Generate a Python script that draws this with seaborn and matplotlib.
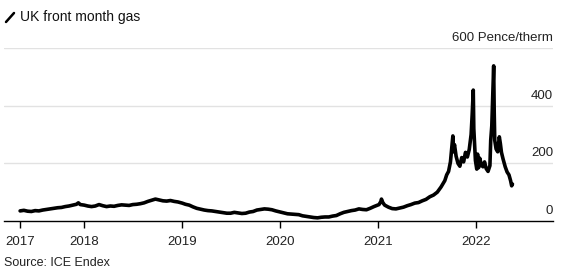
import matplotlib
matplotlib.use("Agg")
import matplotlib.pyplot as plt
import matplotlib.dates as mdates
from matplotlib.lines import Line2D
from matplotlib.transforms import blended_transform_factory
import seaborn as sns
import pandas as pd

sns.set_style("white")
plt.rcParams['font.family'] = ['Liberation Sans', 'DejaVu Sans']

dates = [
    "2017-05-08", "2017-05-22", "2017-06-05", "2017-06-19", "2017-07-03", "2017-07-17", "2017-07-31",
    "2017-08-14", "2017-08-28", "2017-09-11", "2017-09-25", "2017-10-09", "2017-10-23", "2017-11-06",
    "2017-11-20", "2017-12-04", "2017-12-11", "2017-12-18",
    "2018-01-02", "2018-01-15", "2018-01-29", "2018-02-12", "2018-02-26", "2018-03-12", "2018-03-26",
    "2018-04-09", "2018-04-23", "2018-05-07", "2018-05-21", "2018-06-04", "2018-06-18", "2018-07-02",
    "2018-07-16", "2018-07-30", "2018-08-13", "2018-08-27", "2018-09-10", "2018-09-24", "2018-10-08",
    "2018-10-22", "2018-11-05", "2018-11-19", "2018-12-03", "2018-12-17",
    "2019-01-02", "2019-01-14", "2019-01-28", "2019-02-11", "2019-02-25", "2019-03-11", "2019-03-25",
    "2019-04-08", "2019-04-22", "2019-05-06", "2019-05-20", "2019-06-03", "2019-06-17", "2019-07-01",
    "2019-07-15", "2019-07-29", "2019-08-12", "2019-08-26", "2019-09-09", "2019-09-23", "2019-10-07",
    "2019-10-21", "2019-11-04", "2019-11-18", "2019-12-02", "2019-12-16",
    "2020-01-02", "2020-01-15", "2020-01-29", "2020-02-12", "2020-02-26", "2020-03-11", "2020-03-25",
    "2020-04-08", "2020-04-22", "2020-05-06", "2020-05-20", "2020-06-03", "2020-06-17", "2020-07-01",
    "2020-07-15", "2020-07-29", "2020-08-12", "2020-08-26", "2020-09-09", "2020-09-23", "2020-10-07",
    "2020-10-21", "2020-11-04", "2020-11-18", "2020-12-02", "2020-12-16",
    "2021-01-04", "2021-01-11", "2021-01-13", "2021-01-18", "2021-01-25", "2021-02-08", "2021-02-22",
    "2021-03-08", "2021-03-22", "2021-04-05", "2021-04-19", "2021-05-03", "2021-05-17", "2021-05-31",
    "2021-06-14", "2021-06-28", "2021-07-12", "2021-07-26", "2021-08-09", "2021-08-23", "2021-09-06",
    "2021-09-13", "2021-09-20", "2021-09-27", "2021-10-01", "2021-10-06", "2021-10-08", "2021-10-12",
    "2021-10-18", "2021-10-25", "2021-11-01", "2021-11-08", "2021-11-15", "2021-11-22", "2021-11-29",
    "2021-12-06", "2021-12-13", "2021-12-17", "2021-12-21", "2021-12-23", "2021-12-29",
    "2022-01-03", "2022-01-06", "2022-01-10", "2022-01-14", "2022-01-20", "2022-01-26", "2022-02-01",
    "2022-02-07", "2022-02-14", "2022-02-21", "2022-02-24", "2022-02-28", "2022-03-03", "2022-03-07",
    "2022-03-09", "2022-03-11", "2022-03-16", "2022-03-22", "2022-03-28", "2022-04-01", "2022-04-05",
    "2022-04-11", "2022-04-19", "2022-04-26", "2022-05-03", "2022-05-09", "2022-05-13", "2022-05-16",
]
prices = [
    35, 37, 34, 33, 36, 35, 38,
    40, 42, 44, 46, 47, 50, 52,
    55, 58, 63, 57,
    55, 52, 50, 52, 57, 53, 50,
    52, 51, 54, 56, 55, 54, 57,
    58, 60, 63, 68, 72, 76, 73,
    70, 69, 71, 68, 66,
    62, 58, 55, 49, 44, 41, 38,
    36, 35, 33, 31, 29, 27, 27,
    30, 28, 26, 27, 31, 33, 38,
    40, 42, 41, 39, 35,
    31, 28, 25, 24, 23, 22, 18,
    16, 14, 12, 11, 13, 14, 14,
    17, 19, 25, 30, 33, 36, 38,
    42, 40, 39, 44, 50,
    57, 68, 76, 64, 55, 48, 43,
    42, 45, 48, 53, 57, 62, 64,
    70, 75, 84, 90, 100, 118, 140,
    160, 172, 205, 245, 295, 240, 265,
    225, 200, 190, 220, 205, 238, 222,
    248, 300, 370, 454, 320, 210,
    180, 232, 185, 218, 195, 188, 205,
    182, 172, 192, 280, 330, 420, 538,
    380, 280, 250, 240, 292, 268, 238,
    215, 188, 170, 160, 140, 122, 128,
]
tick_labels = ["2017", "2018", "2019", "2020", "2021", "2022"]
tick_dates = ["2017-05-08", "2018-01-01", "2019-01-01", "2020-01-01", "2021-01-01", "2022-01-01"]
y_ticks = [0, 200, 400, 600]
y_labels = ["0", "200", "400", "600 Pence/therm"]

df = pd.DataFrame({"date": pd.to_datetime(dates), "price": prices})

fig = plt.figure(figsize=(5.72, 2.8), dpi=100)
ax = fig.add_axes([4/572, 1 - 221/280, (553 - 4)/572, (221 - 48)/280])

sns.lineplot(data=df, x="date", y="price", ax=ax, color="black", linewidth=2.6)

ax.set_xlim(pd.Timestamp("2017-03-09"), pd.Timestamp("2022-10-14"))
ax.set_ylim(0, 600)
ax.set_xlabel("")
ax.set_ylabel("")

for v in y_ticks[1:]:
    ax.axhline(v, color="#e2e2e2", linewidth=1, zorder=0)
ax.set_yticks([])

trans = blended_transform_factory(ax.transAxes, ax.transData)
for v, lab in zip(y_ticks, y_labels):
    ax.text(1.0, v + 14, lab, transform=trans, ha="right", va="bottom", fontsize=9.5, color="#222222")

ax.set_xticks(pd.to_datetime(tick_dates))
ax.set_xticklabels(tick_labels, fontsize=9.5, color="#222222")
ax.tick_params(axis="x", direction="out", length=5, width=1, color="black", pad=6, bottom=True)

for s in ["top", "left", "right"]:
    ax.spines[s].set_visible(False)
ax.spines["bottom"].set_color("black")
ax.spines["bottom"].set_linewidth(1)

# legend icon and title
fig.add_artist(Line2D([6/572, 14/572], [1 - 22/280, 1 - 13/280], color="black", linewidth=1.8,
                      transform=fig.transFigure))
fig.text(20/572, 1 - 17/280, "UK front month gas", fontsize=10, va="center", ha="left", color="#111111")
fig.text(4/572, 1 - 263/280, "Source: ICE Endex", fontsize=9, va="center", ha="left", color="#222222")

fig.savefig("out.png", dpi=100)
